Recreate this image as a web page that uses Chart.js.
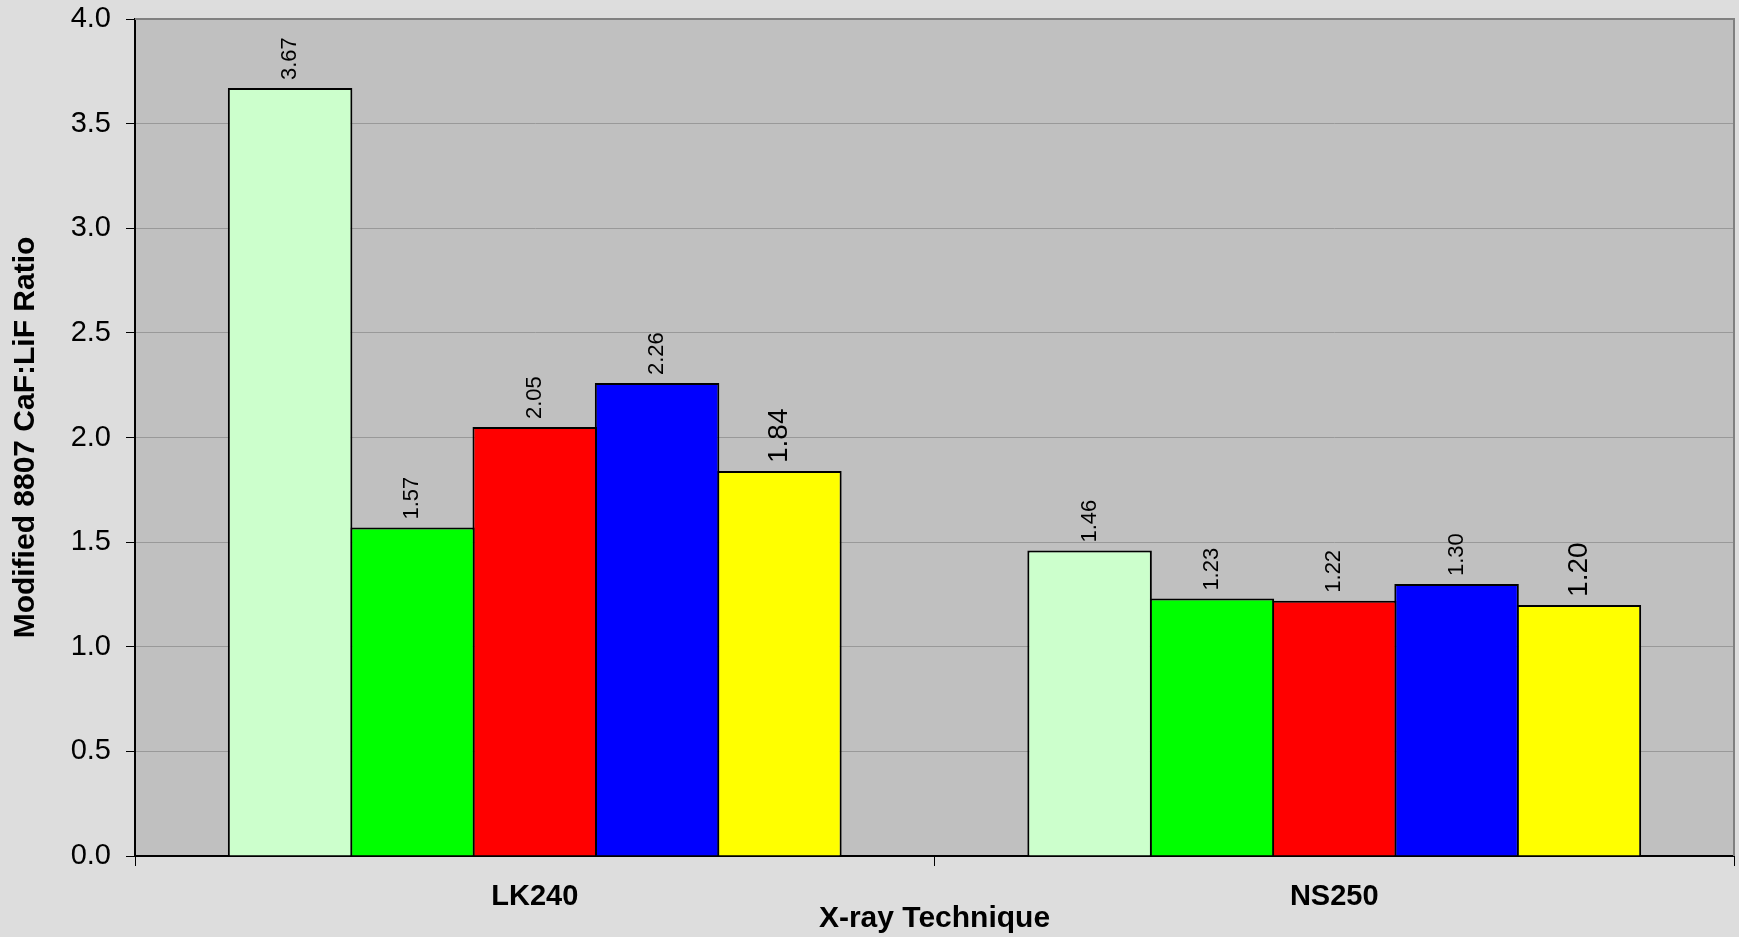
<!DOCTYPE html>
<html>
<head>
<meta charset="utf-8">
<script src="https://cdn.jsdelivr.net/npm/chart.js@4"></script>
<style>
  html, body { margin: 0; padding: 0; background: #dddddd; }
  #wrap { width: 1739px; height: 937px; }
</style>
</head>
<body>
<div id="wrap"><canvas id="ratioChart"></canvas></div>
<script>
// categories and series values
const techniques = ['LK240', 'NS250'];
const seriesNames = ['Series 1', 'Series 2', 'Series 3', 'Series 4', 'Series 5'];
const series1 = [3.67, 1.46];
const series2 = [1.57, 1.23];
const series3 = [2.05, 1.22];
const series4 = [2.26, 1.30];
const series5 = [1.84, 1.20];
const yTicks = [0, 0.5, 1.0, 1.5, 2.0, 2.5, 3.0, 3.5, 4.0];

const fills = ['#ccffcc', '#00ff00', '#ff0000', '#0000ff', '#ffff00'];
const labelSizes = [22, 22, 22, 22, 28];
const FONT = '"Liberation Sans", Arial, sans-serif';

// bars overlap slightly so neighbours share one outline
const datasets = [series1, series2, series3, series4, series5].map((vals, i) => ({
    label: seriesNames[i],
    data: vals,
    backgroundColor: fills[i],
    borderColor: '#000000',
    borderWidth: 2,
    borderSkipped: 'bottom',
    labelSize: labelSizes[i],
    barPercentage: 1.018,
    categoryPercentage: 0.765
}));

// gray plot area and thin frame on top/right
const plotFrame = {
    id: 'plotFrame',
    beforeDraw(chart) {
        const { ctx, chartArea: a } = chart;
        ctx.save();
        ctx.fillStyle = '#dddddd';
        ctx.fillRect(0, 0, chart.width, chart.height);
        ctx.fillStyle = '#c0c0c0';
        ctx.fillRect(a.left, a.top, a.right - a.left, a.bottom - a.top);
        ctx.restore();
    },
    afterDraw(chart) {
        const { ctx, chartArea: a } = chart;
        ctx.save();
        ctx.strokeStyle = '#808080';
        ctx.lineWidth = 2;
        ctx.beginPath();
        ctx.moveTo(a.left, a.top);
        ctx.lineTo(a.right, a.top);
        ctx.lineTo(a.right, a.bottom);
        ctx.stroke();
        ctx.restore();
    }
};

// rotated value labels above each bar
const valueLabels = {
    id: 'valueLabels',
    afterDatasetsDraw(chart) {
        const ctx = chart.ctx;
        chart.data.datasets.forEach((ds, i) => {
            chart.getDatasetMeta(i).data.forEach((bar, j) => {
                ctx.save();
                ctx.translate(bar.x, bar.y - 8);
                ctx.rotate(-Math.PI / 2);
                ctx.font = ds.labelSize + 'px ' + FONT;
                ctx.fillStyle = '#000000';
                ctx.textAlign = 'left';
                ctx.textBaseline = 'middle';
                ctx.fillText(ds.data[j].toFixed(2), 0, 0);
                ctx.restore();
            });
        });
    }
};

new Chart(document.getElementById('ratioChart'), {
    type: 'bar',
    data: { labels: techniques, datasets: datasets },
    plugins: [plotFrame, valueLabels],
    options: {
        responsive: true,
        maintainAspectRatio: false,
        animation: false,
        layout: { padding: { top: 19, right: 5, left: 0, bottom: 0 } },
        plugins: {
            legend: { display: false },
            tooltip: { enabled: false }
        },
        scales: {
            x: {
                afterFit: function(scale) { scale.height = 81; },
                grid: {
                    offset: true,
                    drawOnChartArea: false,
                    drawTicks: true,
                    tickLength: 10,
                    tickColor: '#000000',
                    tickWidth: 1
                },
                border: { color: '#000000', width: 2 },
                ticks: {
                    color: '#000000',
                    padding: 14,
                    font: { family: FONT, size: 29, weight: 'bold' }
                },
                title: {
                    display: true,
                    text: 'X-ray Technique',
                    color: '#000000',
                    padding: { top: 0, bottom: 0 },
                    font: { family: FONT, size: 30, weight: 'bold' }
                }
            },
            y: {
                min: 0,
                max: 4,
                afterFit: function(scale) {
                    scale.width = 135;
                    scale.paddingTop = 0;
                    scale.paddingBottom = 0;
                },
                afterBuildTicks: function(scale) {
                    scale.ticks = yTicks.map(v => ({ value: v }));
                },
                grid: {
                    color: '#999999',
                    lineWidth: 1,
                    drawTicks: true,
                    tickLength: 9,
                    tickColor: '#000000',
                    tickWidth: 1
                },
                border: { color: '#000000', width: 2 },
                ticks: {
                    color: '#000000',
                    padding: 15,
                    font: { family: FONT, size: 29 },
                    callback: function(v) { return Number(v).toFixed(1); }
                },
                title: {
                    display: true,
                    text: 'Modified 8807 CaF:LiF Ratio',
                    color: '#000000',
                    padding: { top: 8, bottom: 0 },
                    font: { family: FONT, size: 30, weight: 'bold' }
                }
            }
        }
    }
});
</script>
</body>
</html>
